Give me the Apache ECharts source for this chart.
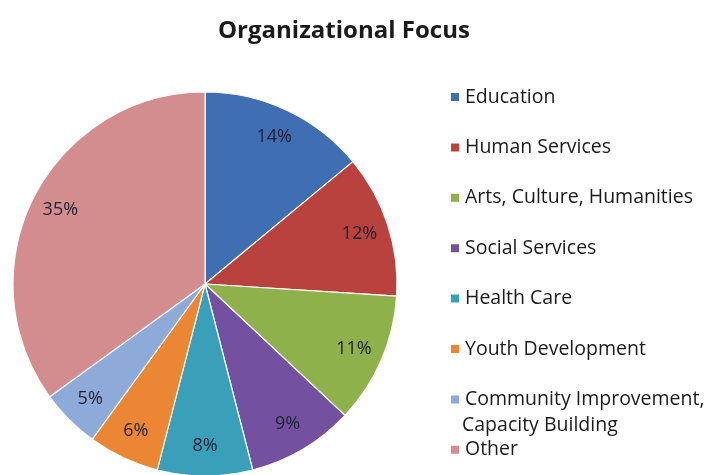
<!DOCTYPE html>
<html>
<head>
<meta charset="utf-8">
<script src="https://cdn.jsdelivr.net/npm/echarts@6/dist/echarts.min.js"></script>
<style>
  html, body { margin: 0; padding: 0; background: #fff; }
  #chart { width: 715px; height: 475px; }
</style>
</head>
<body>
<div id="chart"></div>
<script>
// Share of organizations by primary focus area (percent)
const categories = [
  'Education',
  'Human Services',
  'Arts, Culture, Humanities',
  'Social Services',
  'Health Care',
  'Youth Development',
  'Community Improvement, Capacity Building',
  'Other'
];
const shares = [14, 12, 11, 9, 8, 6, 5, 35];
const sliceColors = ['#3f6eb3', '#b9413e', '#8fb14c', '#7451a0', '#3aa0ba', '#ea8634', '#8eaad8', '#d48d8f'];

const pieData = categories.map((name, i) => ({
  name,
  value: shares[i],
  itemStyle: { color: sliceColors[i] }
}));

const fontFamily = '"Open Sans", Lato, sans-serif';
const center = [205, 284];
const outer = 192;

const chart = echarts.init(document.getElementById('chart'), null, { renderer: 'canvas' });
chart.setOption({
  backgroundColor: '#ffffff',
  animation: false,
  title: {
    text: 'Organizational Focus',
    left: 213,
    top: 14,
    textStyle: { fontFamily, fontSize: 24, fontWeight: 'bold', color: '#1a1a1a' }
  },
  legend: {
    orient: 'vertical',
    left: 444,
    top: 82,
    itemWidth: 10,
    itemHeight: 10,
    itemGap: 30.4,
    icon: 'rect',
    selectedMode: false,
    data: categories,
    formatter: name => name === categories[6] ? 'Community Improvement,' : name,
    textStyle: { fontFamily, fontSize: 19.5, color: '#1a1a1a', lineHeight: 20 }
  },
  graphic: [{
    type: 'text',
    left: 462,
    top: 415,
    style: { text: 'Capacity Building', font: '19.5px ' + fontFamily, fill: '#1a1a1a' }
  }],
  series: [
    {
      type: 'pie',
      center,
      radius: outer,
      startAngle: 90,
      clockwise: true,
      silent: true,
      data: pieData,
      label: { show: false },
      labelLine: { show: false },
      itemStyle: { borderColor: '#ffffff', borderWidth: 1.2 }
    },
    {
      // transparent ring that carries the percentage labels near the rim
      type: 'pie',
      center,
      radius: [outer * 0.66, outer],
      startAngle: 90,
      clockwise: true,
      silent: true,
      data: categories.map((name, i) => ({ name, value: shares[i] })),
      itemStyle: { color: 'rgba(0,0,0,0)', borderWidth: 0 },
      label: {
        show: true,
        position: 'inside',
        formatter: p => p.value + '%',
        fontFamily,
        fontSize: 18,
        color: '#1e1f35'
      },
      labelLine: { show: false },
      emphasis: { disabled: true }
    }
  ]
});
</script>
</body>
</html>
